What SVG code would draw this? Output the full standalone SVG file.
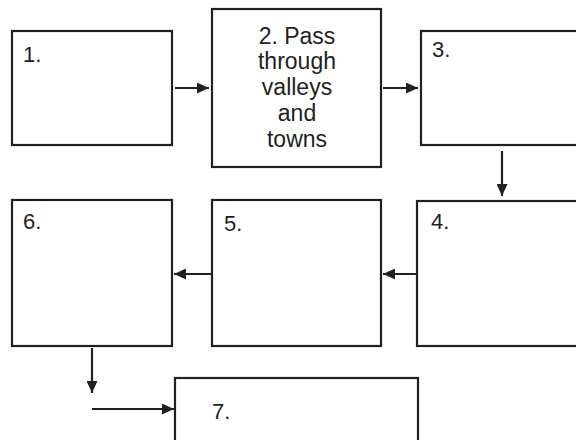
<svg xmlns="http://www.w3.org/2000/svg" width="576" height="440" viewBox="0 0 576 440">
<style>
.box{fill:#fff;stroke:#231f20;stroke-width:2.2}
.lbl{font-family:"Liberation Sans",Arial,sans-serif;font-size:22px;fill:#231f20}
.txt{font-family:"Liberation Sans",Arial,sans-serif;font-size:23px;fill:#231f20;text-anchor:middle}
.con{stroke:#231f20;stroke-width:2.2;fill:none}
</style>
<defs>
<marker id="ah" markerWidth="12" markerHeight="11" refX="12" refY="5.5" orient="auto" markerUnits="userSpaceOnUse">
<path d="M0,0 L12,5.5 L0,11 Z" fill="#231f20"/>
</marker>
</defs>
<rect width="576" height="440" fill="#fff"/>
<g id="node1"><rect class="box" x="12" y="31" width="160" height="114"/><text class="lbl" x="23" y="62">1.</text></g>
<g id="node2"><rect class="box" x="212" y="9" width="169" height="158"/>
<text class="txt" x="297" y="44">2. Pass</text>
<text class="txt" x="297" y="69">through</text>
<text class="txt" x="297" y="95">valleys</text>
<text class="txt" x="297" y="121">and</text>
<text class="txt" x="297" y="147">towns</text></g>
<g id="node3"><rect class="box" x="421" y="31" width="170" height="114"/><text class="lbl" x="432" y="57">3.</text></g>
<g id="node4"><rect class="box" x="417" y="201" width="170" height="145"/><text class="lbl" x="431" y="229">4.</text></g>
<g id="node5"><rect class="box" x="212" y="200" width="169" height="146"/><text class="lbl" x="224" y="231">5.</text></g>
<g id="node6"><rect class="box" x="12" y="200" width="160" height="146"/><text class="lbl" x="23" y="229">6.</text></g>
<g id="node7"><rect class="box" x="175" y="378" width="243" height="80"/><text class="lbl" x="212" y="419">7.</text></g>
<g id="connectors">
<line class="con" x1="175" y1="88" x2="209" y2="88" marker-end="url(#ah)"/>
<line class="con" x1="383" y1="88" x2="418" y2="88" marker-end="url(#ah)"/>
<line class="con" x1="502" y1="151" x2="502" y2="196" marker-end="url(#ah)"/>
<line class="con" x1="416" y1="274" x2="383" y2="274" marker-end="url(#ah)"/>
<line class="con" x1="211" y1="274" x2="174" y2="274" marker-end="url(#ah)"/>
<line class="con" x1="92" y1="348" x2="92" y2="393" marker-end="url(#ah)"/>
<line class="con" x1="92" y1="409" x2="174" y2="409" marker-end="url(#ah)"/>
</g>
</svg>
